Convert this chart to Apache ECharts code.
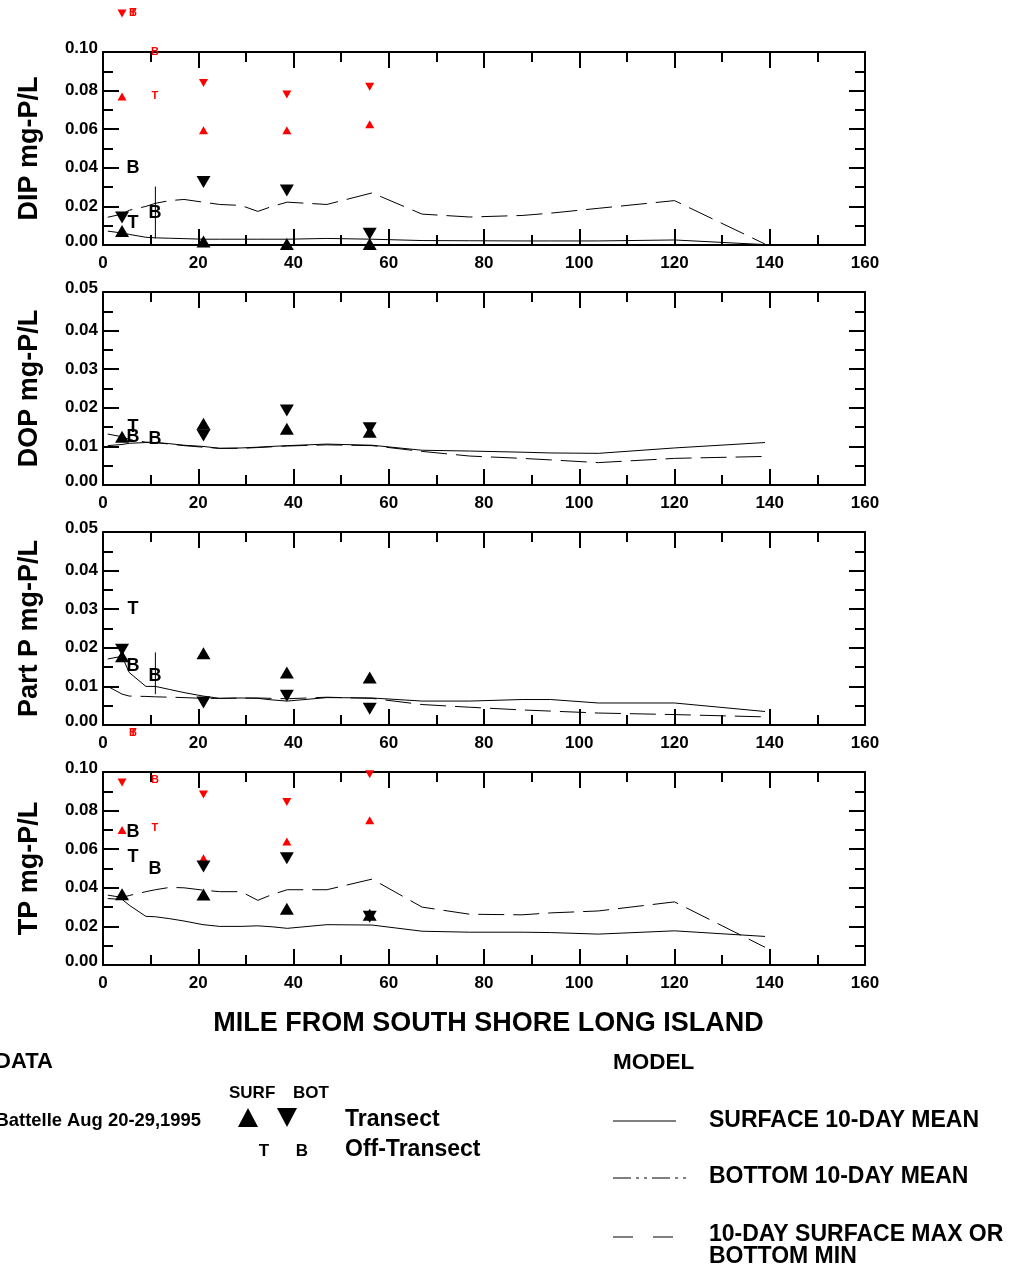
<!DOCTYPE html>
<html><head><meta charset="utf-8">
<script src="https://cdn.jsdelivr.net/npm/echarts@6/dist/echarts.min.js"></script>
<style>html,body{margin:0;padding:0;background:#fff}#c{width:1015px;height:1265px}</style>
</head><body><div id="c"></div>
<script>
// ---------- DATA ----------
const modelMiles = [1, 4, 5.5, 9, 11, 14, 17, 21, 24.5, 29, 32.5, 35.5, 38.7, 47, 56.5, 67, 77, 88, 94, 104, 120, 139];

const dipSurfMean = [0.0072,0.0062,0.0055,0.0040,0.0037,0.0035,0.0033,0.0030,0.0030,0.0030,0.0030,0.0030,0.0030,0.0034,0.0030,0.0023,0.0022,0.0021,0.0021,0.0021,0.0026,0.0002];
const dipMaxMin   = [0.0144,0.0160,0.0180,0.0200,0.0216,0.0230,0.0236,0.0222,0.0210,0.0205,0.0174,0.0200,0.0222,0.0210,0.0270,0.0160,0.0145,0.0153,0.0165,0.0190,0.0230,0.0005];
const dopSurfMean = [0.0102,0.0105,0.0108,0.0110,0.0110,0.0107,0.0103,0.0100,0.0095,0.0096,0.0098,0.0100,0.0102,0.0106,0.0103,0.0090,0.0088,0.0085,0.0083,0.0082,0.0096,0.0110];
const dopMaxMin   = [0.0132,0.0125,0.0118,0.0111,0.0110,0.0106,0.0102,0.0098,0.0095,0.0095,0.0097,0.0099,0.0101,0.0104,0.0102,0.0087,0.0075,0.0069,0.0065,0.0058,0.0069,0.0074];
const ppSurfMean  = [0.0171,0.0178,0.0136,0.0100,0.0100,0.0092,0.0084,0.0075,0.0069,0.0070,0.0069,0.0065,0.0062,0.0071,0.0070,0.0062,0.0062,0.0066,0.0066,0.0057,0.0057,0.0035];
const ppMaxMin    = [0.0100,0.0080,0.0075,0.0074,0.0073,0.0072,0.0071,0.0069,0.0069,0.0070,0.0070,0.0069,0.0068,0.0072,0.0069,0.0053,0.0046,0.0039,0.0036,0.0031,0.0027,0.0021];
const tpSurfMean  = [0.0344,0.0340,0.0310,0.0252,0.0250,0.0240,0.0228,0.0209,0.0200,0.0200,0.0203,0.0198,0.0190,0.0209,0.0207,0.0175,0.0170,0.0170,0.0168,0.0160,0.0177,0.0148];
const tpMaxMin    = [0.0362,0.0350,0.0360,0.0380,0.0390,0.0402,0.0400,0.0388,0.0380,0.0380,0.0335,0.0365,0.0390,0.0390,0.0445,0.0300,0.0263,0.0260,0.0270,0.0280,0.0327,0.0092];

const dipBar = [[11, 0.0303], [11, 0.0034]];
const ppBar  = [[11, 0.0188], [11, 0.0080]];

// Battelle data [mile, value]
const dipSurf = [[4,0.0073],[21.1,0.0018],[38.6,0.0005],[56,0.0005]];
const dipBot  = [[4,0.0143],[21.1,0.0326],[38.6,0.0283],[56,0.0058]];
const dipOffT = [[6.3,0.0116]];
const dipOffB = [[6.3,0.0400],[10.9,0.0165]];
const dipRedSurf = [[4,0.077],[21.1,0.0595],[38.6,0.0595],[56,0.0626]];
const dipRedBot  = [[4,0.120],[21.1,0.084],[38.6,0.078],[56,0.082]];
const dipRedT = [[10.9,0.077],[6.3,0.120]];
const dipRedB = [[10.9,0.100],[6.3,0.120]];

const dopSurf = [[4,0.0125],[21.1,0.0159],[38.6,0.0146],[56,0.0138]];
const dopBot  = [[21.1,0.0128],[38.6,0.0193],[56,0.0147]];
const dopOffT = [[6.3,0.0149]];
const dopOffB = [[6.3,0.0125],[10.9,0.0120]];

const ppSurf = [[4,0.0178],[21.1,0.0186],[38.6,0.0136],[56,0.0123]];
const ppBot  = [[4,0.0195],[21.1,0.0058],[38.6,0.0076],[56,0.0042]];
const ppOffT = [[6.3,0.0300]];
const ppOffB = [[6.3,0.0154],[10.9,0.0128]];

const tpSurf = [[4,0.0367],[21.1,0.0365],[38.6,0.0292],[56,0.0260]];
const tpBot  = [[21.1,0.0510],[38.6,0.0553],[56,0.0250]];
const tpOffT = [[6.3,0.0560]];
const tpOffB = [[6.3,0.0690],[10.9,0.0497]];
const tpRedSurf = [[4,0.070],[21.1,0.0553],[38.6,0.064],[56,0.075]];
const tpRedBot  = [[4,0.0945],[21.1,0.0884],[38.6,0.0845],[56,0.0988]];
const tpRedT = [[10.9,0.071],[6.3,0.120]];
const tpRedB = [[10.9,0.096],[6.3,0.120]];

const panelNames = ['DIP mg-P/L', 'DOP mg-P/L', 'Part P mg-P/L', 'TP mg-P/L'];
const panelMax = [0.10, 0.05, 0.05, 0.10];
const panelInterval = [0.02, 0.01, 0.01, 0.02];
const xTitle = 'MILE FROM SOUTH SHORE LONG ISLAND';

// ---------- BUILD ----------
const FONT = '"Liberation Sans", Arial, Helvetica, sans-serif';
const panels = [
  {surfMean: dipSurfMean, maxMin: dipMaxMin, bar: dipBar, surf: dipSurf, bot: dipBot, offT: dipOffT, offB: dipOffB, redSurf: dipRedSurf, redBot: dipRedBot, redT: dipRedT, redB: dipRedB},
  {surfMean: dopSurfMean, maxMin: dopMaxMin, bar: null, surf: dopSurf, bot: dopBot, offT: dopOffT, offB: dopOffB},
  {surfMean: ppSurfMean, maxMin: ppMaxMin, bar: ppBar, surf: ppSurf, bot: ppBot, offT: ppOffT, offB: ppOffB},
  {surfMean: tpSurfMean, maxMin: tpMaxMin, bar: null, surf: tpSurf, bot: tpBot, offT: tpOffT, offB: tpOffB, redSurf: tpRedSurf, redBot: tpRedBot, redT: tpRedT, redB: tpRedB}
];
const tops = [52, 292, 532, 772];
const pairs = (xs, ys) => xs.map((x, i) => [x, ys[i]]);

const grids = [], xAxes = [], yAxes = [], series = [];
const tickStyle = {color: '#000', width: 2};
panels.forEach((p, i) => {
  grids.push({left: 103, width: 762, top: tops[i], height: 193});
  const xBase = {type: 'value', gridIndex: i, min: 0, max: 160, interval: 20,
    axisLine: {show: true, onZero: false, lineStyle: tickStyle},
    axisTick: {show: true, inside: true, length: 16, lineStyle: tickStyle},
    minorTick: {show: true, splitNumber: 2, length: 10, lineStyle: tickStyle},
    splitLine: {show: false}};
  xAxes.push(Object.assign({}, xBase, {position: 'bottom',
    axisLabel: {show: true, margin: 10, color: '#000', fontSize: 17, fontWeight: 'bold', fontFamily: FONT},
    name: i === 3 ? xTitle : '', nameLocation: 'middle', nameGap: 45,
    nameTextStyle: {color: '#000', fontSize: 27, fontWeight: 'bold', fontFamily: FONT, padding: [0, 0, 0, 9]}}));
  xAxes.push(Object.assign({}, xBase, {position: 'top', axisLabel: {show: false}}));
  const yBase = {type: 'value', gridIndex: i, min: 0, max: panelMax[i], interval: panelInterval[i],
    axisLine: {show: true, onZero: false, lineStyle: tickStyle},
    axisTick: {show: true, inside: true, length: 16, lineStyle: tickStyle},
    minorTick: {show: true, splitNumber: 2, length: 10, lineStyle: tickStyle},
    splitLine: {show: false}};
  yAxes.push(Object.assign({}, yBase, {position: 'left',
    axisLabel: {show: true, margin: 5, color: '#000', fontSize: 17, lineHeight: 7, fontWeight: 'bold', fontFamily: FONT,
      formatter: v => v.toFixed(2), verticalAlignMinLabel: 'bottom', verticalAlignMaxLabel: 'bottom'},
    name: panelNames[i], nameLocation: 'middle', nameGap: 60,
    nameTextStyle: {color: '#000', fontSize: 27, fontWeight: 'bold', fontFamily: FONT}}));
  yAxes.push(Object.assign({}, yBase, {position: 'right', axisLabel: {show: false}}));

  const ax = {xAxisIndex: 2 * i, yAxisIndex: 2 * i};
  series.push(Object.assign({type: 'line', data: pairs(modelMiles, p.surfMean), symbol: 'none', silent: true, z: 2,
    lineStyle: {color: '#000', width: 1}}, ax));
  series.push(Object.assign({type: 'line', data: pairs(modelMiles, p.maxMin), symbol: 'none', silent: true, z: 2,
    lineStyle: {color: '#000', width: 1, type: [26, 9]}}, ax));
  if (p.bar) series.push(Object.assign({type: 'line', data: p.bar, symbol: 'none', silent: true, z: 2,
    lineStyle: {color: '#000', width: 1}}, ax));

  const tri = (data, down, color, size) => Object.assign({type: 'scatter', data, symbol: 'triangle',
    symbolSize: size, symbolRotate: down ? 180 : 0, clip: false, silent: true, z: 4,
    itemStyle: {color, opacity: 1}}, ax);
  const letter = (data, text, color, size) => Object.assign({type: 'custom', data, silent: true, z: 5, clip: false,
    renderItem: (params, api) => {
      const pt = api.coord([api.value(0), api.value(1)]);
      return {type: 'text', x: pt[0], y: pt[1], style: {text, fill: color, opacity: 1,
        font: 'bold ' + size + 'px ' + FONT, align: 'center', verticalAlign: 'middle'}};
    }}, ax);

  if (p.redSurf) {
    series.push(tri(p.redSurf, false, '#ff0000', [9, 8]));
    series.push(tri(p.redBot, true, '#ff0000', [9, 8]));
    series.push(letter(p.redT, 'T', '#ff0000', 11));
    series.push(letter(p.redB, 'B', '#ff0000', 11));
  }
  series.push(tri(p.surf, false, '#000', [14, 12]));
  series.push(tri(p.bot, true, '#000', [14, 12]));
  series.push(letter(p.offT, 'T', '#000', 18));
  series.push(letter(p.offB, 'B', '#000', 18));
});

// ---------- LEGEND (graphic) ----------
const txt = (x, y, t, size, align) => ({type: 'text', x, y, style: {text: t, fill: '#000',
  font: 'bold ' + size + 'px ' + FONT, align: align || 'left', verticalAlign: 'middle'}});
const graphic = [
  txt(-5, 1062, 'DATA', 22),
  txt(201, 1121, 'Battelle Aug 20-29,1995', 18.4, 'right'),
  txt(229, 1093, 'SURF', 17),
  txt(293, 1093, 'BOT', 17),
  {type: 'polygon', shape: {points: [[248, 1108], [258, 1127], [238, 1127]]}, style: {fill: '#000'}},
  {type: 'polygon', shape: {points: [[277, 1108], [297, 1108], [287, 1127]]}, style: {fill: '#000'}},
  txt(345, 1120, 'Transect', 23),
  txt(264, 1151, 'T', 17, 'center'),
  txt(302, 1151, 'B', 17, 'center'),
  txt(345, 1150, 'Off-Transect', 23),
  txt(613, 1063, 'MODEL', 22.5),
  {type: 'line', shape: {x1: 613, y1: 1121, x2: 676, y2: 1121}, style: {stroke: '#000', lineWidth: 1}},
  {type: 'line', shape: {x1: 613, y1: 1178, x2: 690, y2: 1178}, style: {stroke: '#000', lineWidth: 1, lineDash: [18, 5, 3, 5, 3, 5]}},
  {type: 'line', shape: {x1: 613, y1: 1237, x2: 673, y2: 1237}, style: {stroke: '#000', lineWidth: 1, lineDash: [20, 20]}},
  txt(709, 1121, 'SURFACE 10-DAY MEAN', 23),
  txt(709, 1177, 'BOTTOM 10-DAY MEAN', 23),
  txt(709, 1235, '10-DAY SURFACE MAX OR', 23),
  txt(709, 1257, 'BOTTOM MIN', 23)
];

const chart = echarts.init(document.getElementById('c'), null, {renderer: 'canvas'});
chart.setOption({
  animation: false,
  backgroundColor: '#fff',
  textStyle: {fontFamily: FONT},
  grid: grids, xAxis: xAxes, yAxis: yAxes, series, graphic
});
</script></body></html>
